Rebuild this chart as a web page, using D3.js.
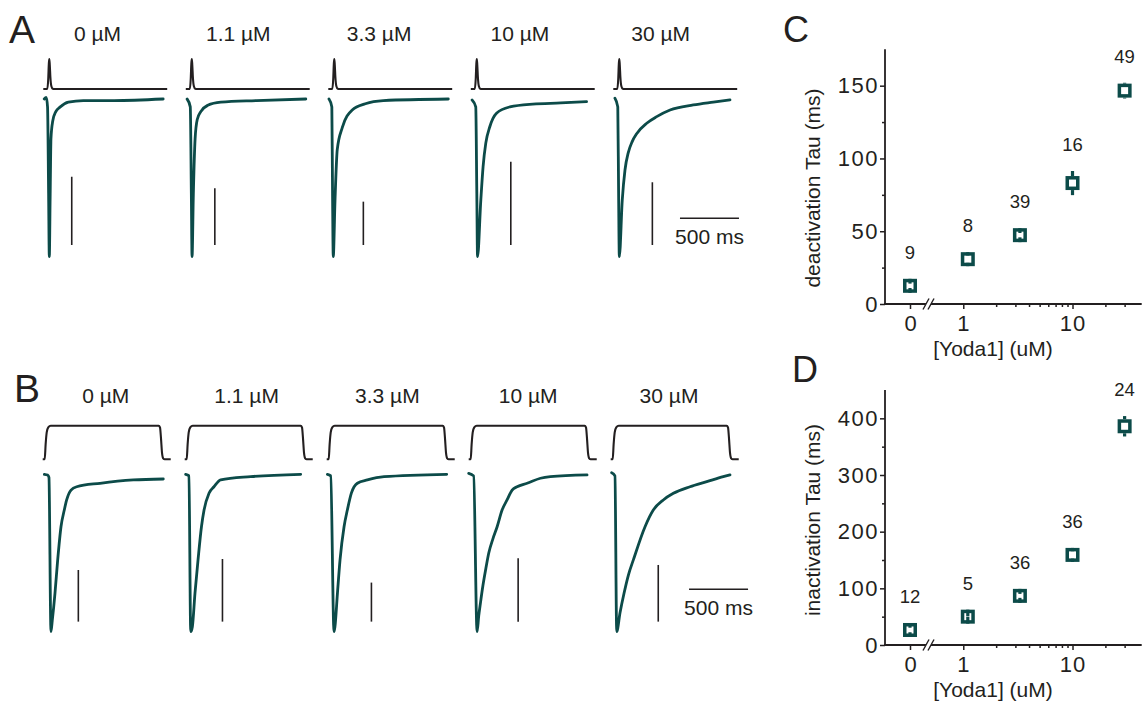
<!DOCTYPE html>
<html><head><meta charset="utf-8">
<script src="https://cdn.jsdelivr.net/npm/d3@7"></script>
<style>
body{margin:0;background:#fff}
text{font-family:"Liberation Sans",Arial,Helvetica,sans-serif;fill:#231f20}
</style>
</head><body>
<svg id="fig" width="1143" height="703"></svg>
<script>
// ---------------- DATA ----------------
const concLabels = ["0 µM", "1.1 µM", "3.3 µM", "10 µM", "30 µM"];
const concValues = [0, 1.1, 3.3, 10, 30];

// Panel A: deactivation protocol (time in ms, stimulus normalised 0..1)
const deactStimT = [0, 34, 42, 47, 51, 55, 60, 68, 80, 95, 1050];
const deactStimV = [0, 0, 0.35, 0.85, 1, 0.8, 0.4, 0.1, 0.01, 0, 0];
// Panel A currents (time ms, current normalised to peak)
const deactT = [
  [8, 25, 36, 45, 51, 58, 65, 80, 106, 144, 212, 339, 600, 1016],
  [11, 38, 47, 53, 64, 79, 97, 127, 186, 297, 600, 1017],
  [6, 30, 36, 42, 57, 76, 119, 203, 314, 466, 1017],
  [11, 42, 51, 57, 85, 104, 127, 161, 218, 331, 525, 763, 981],
  [14, 38, 45, 51, 76, 99, 127, 160, 198, 283, 368, 481, 678, 847, 989]
];
const deactV = [
  [0, 0.01, -0.05, -0.6, -1, -0.62, -0.25, -0.14, -0.08, -0.05, -0.02, -0.01, -0.01, 0],
  [0, -0.05, -0.6, -1, -0.6, -0.25, -0.13, -0.08, -0.04, -0.02, -0.01, 0],
  [0, -0.05, -0.6, -1, -0.64, -0.32, -0.18, -0.07, -0.03, -0.01, 0],
  [-0.006, -0.05, -0.6, -1, -0.64, -0.43, -0.28, -0.176, -0.09, -0.05, -0.032, -0.025, -0.017],
  [0.005, -0.05, -0.6, -1, -0.64, -0.45, -0.34, -0.27, -0.22, -0.154, -0.112, -0.07, -0.038, -0.02, -0.006]
];
const deactScaleBar = [0.433, 0.36, 0.275, 0.528, 0.398];   // current scale bars (fraction of peak)

// Panel B: inactivation protocol
const inactStimT = [0, 17, 25, 34, 47, 68, 983, 994, 1003, 1011, 1021, 1034, 1085];
const inactStimV = [0, 0, 0.45, 0.8, 0.95, 1, 1, 0.95, 0.6, 0.2, 0.03, 0, 0];
const inactT = [
  [14, 42, 53, 70, 81, 104, 127, 155, 183, 203, 240, 288, 486, 768, 1022],
  [8, 36, 51, 65, 87, 113, 142, 164, 206, 248, 305, 559, 983],
  [6, 34, 62, 70, 91, 113, 147, 175, 209, 260, 345, 486, 1017],
  [0, 42, 71, 85, 100, 120, 145, 170, 205, 241, 283, 325, 368, 410, 495, 608, 692, 1003],
  [8, 36, 51, 79, 113, 150, 192, 291, 361, 446, 531, 672, 814, 954, 1011]
];
const inactV = [
  [0, -0.005, -0.02, -1, -0.93, -0.756, -0.544, -0.333, -0.227, -0.163, -0.1, -0.079, -0.057, -0.036, -0.03],
  [0, -0.01, -1, -0.968, -0.756, -0.544, -0.333, -0.227, -0.12, -0.079, -0.036, -0.015, 0],
  [0, -0.01, -1, -0.968, -0.756, -0.544, -0.333, -0.227, -0.12, -0.057, -0.036, -0.015, 0],
  [0.006, -0.01, -1, -0.9, -0.815, -0.71, -0.6, -0.5, -0.41, -0.333, -0.227, -0.163, -0.1, -0.079, -0.057, -0.025, -0.015, -0.004],
  [0.01, -0.01, -1, -0.88, -0.756, -0.64, -0.544, -0.333, -0.227, -0.163, -0.121, -0.079, -0.047, -0.015, -0.004]
];
const inactScaleBar = [0.328, 0.398, 0.248, 0.403, 0.36];

// Panel C / D: time constants (ms), SEM and n
const deactTau = [12.5, 30.8, 47.3, 83.1, 146.6];
const deactErr = [1.5, 2.5, 1.5, 8.3, 5.4];
const deactN   = [9, 8, 39, 16, 49];
const inactTau = [26.5, 50, 86.7, 159, 386];
const inactErr = [4, 0.5, 3.5, 6.5, 18];
const inactN   = [12, 5, 36, 36, 24];

const timeBarMs = 500;
const xLogMajor = [1, 10];
const xLogMinor = [2, 3, 4, 5, 6, 7, 8, 9, 20, 30];
const deactYMajor = [0, 50, 100, 150], deactYMinor = [25, 75, 125];
const inactYMajor = [0, 100, 200, 300, 400], inactYMinor = [50, 150, 250, 350];

// ---------------- DRAWING ----------------
const INK = "#231f20", TEAL = "#0c4b49";
const svg = d3.select("#fig");

function tracePanel(cfg) {
  const g = svg.append("g");
  concLabels.forEach((lab, i) => {
    const x0 = cfg.colStart + i * cfg.colStep;
    const xs = d3.scaleLinear().domain([0, 1000]).range([x0, x0 + 118]);
    const ys = d3.scaleLinear().domain([0, 1]).range([cfg.stimBase, cfg.stimBase - cfg.stimH]);
    const yc = d3.scaleLinear().domain([-1, 0]).range([cfg.curPeak, cfg.curBase]);
    const stim = d3.line().x(d => xs(d[0])).y(d => ys(d[1])).curve(d3.curveMonotoneX);
    const cur = d3.line().x(d => xs(d[0])).y(d => yc(d[1])).curve(d3.curveMonotoneX);
    g.append("path").attr("d", stim(d3.zip(cfg.stimT, cfg.stimV)))
      .attr("fill", "none").attr("stroke", INK).attr("stroke-width", 2.1).attr("stroke-linejoin", "round");
    g.append("path").attr("d", cur(d3.zip(cfg.T[i], cfg.V[i])))
      .attr("fill", "none").attr("stroke", TEAL).attr("stroke-width", 2.8)
      .attr("stroke-linejoin", "round").attr("stroke-linecap", "round");
    // vertical current scale bar
    const sbX = xs(cfg.sbOffsetMs[i]);
    const sbBottom = yc(cfg.sbBottom);
    const sbLen = yc(-cfg.scaleBar[i]) - yc(0);
    g.append("line").attr("x1", sbX).attr("x2", sbX)
      .attr("y1", sbBottom).attr("y2", sbBottom - sbLen)
      .attr("stroke", INK).attr("stroke-width", 1.6);
    g.append("text").attr("x", cfg.labStart + i * cfg.labStep).attr("y", cfg.labY)
      .attr("text-anchor", "middle").attr("font-size", 21).text(lab);
    if (i === 4) {
      const tb0 = xs(cfg.timeBarStart), tb1 = xs(cfg.timeBarStart + timeBarMs);
      g.append("line").attr("x1", tb0).attr("x2", tb1).attr("y1", cfg.timeBarY).attr("y2", cfg.timeBarY)
        .attr("stroke", INK).attr("stroke-width", 1.6);
      g.append("text").attr("x", (tb0 + tb1) / 2).attr("y", cfg.timeBarY + 26)
        .attr("text-anchor", "middle").attr("font-size", 21).text(timeBarMs + " ms");
    }
  });
  g.append("text").attr("x", cfg.letterX).attr("y", cfg.letterY).attr("font-size", 39).text(cfg.letter);
}

tracePanel({
  letter: "A", letterX: 9, letterY: 43,
  colStart: 43.3, colStep: 142.5, labStart: 97.5, labStep: 140.8, labY: 40.5,
  stimBase: 89, stimH: 30, curBase: 99, curPeak: 256.7,
  stimT: deactStimT, stimV: deactStimV, T: deactT, V: deactV,
  scaleBar: deactScaleBar, sbOffsetMs: [241, 246, 297, 339, 331], sbBottom: -0.926,
  timeBarStart: 565, timeBarY: 218.3
});
tracePanel({
  letter: "B", letterX: 14, letterY: 402,
  colStart: 42.7, colStep: 142, labStart: 105.8, labStep: 140.8, labY: 403,
  stimBase: 459.3, stimH: 33.6, curBase: 474.3, curPeak: 631.7,
  stimT: inactStimT, stimV: inactStimV, T: inactT, V: inactV,
  scaleBar: inactScaleBar, sbOffsetMs: [302, 320, 379, 419, 403], sbBottom: -0.936,
  timeBarStart: 664, timeBarY: 589.3
});

function scatterPanel(cfg) {
  const g = svg.append("g");
  const y = d3.scaleLinear().domain(cfg.yDomain).range([cfg.axisY, cfg.topY]);
  const xZero = d3.scaleLinear().domain([-0.5, 0.5]).range([885, 935]);
  const xLog = d3.scaleLog().domain([0.5, 43]).range([930.4, 1141.7]);
  const xOf = c => c === 0 ? xZero(0) : xLog(c);

  // axis lines
  g.append("line").attr("x1", 885).attr("x2", 885).attr("y1", cfg.topY).attr("y2", cfg.axisY)
    .attr("stroke", INK).attr("stroke-width", 1.8);
  g.append("line").attr("x1", 884.1).attr("x2", 1141.7).attr("y1", cfg.axisY).attr("y2", cfg.axisY)
    .attr("stroke", INK).attr("stroke-width", 1.8);

  const style = (sel, spacing) => {
    sel.select(".domain").remove();
    sel.selectAll("line").attr("stroke", INK).attr("stroke-width", 1.5);
    sel.selectAll("text").attr("font-size", 22).attr("fill", INK)
      .attr("letter-spacing", spacing || 0)
      .attr("font-family", '"Liberation Sans",Arial,sans-serif');
  };
  g.append("g").attr("transform", `translate(885,0)`)
    .call(d3.axisLeft(y).tickValues(cfg.yMajor).tickSize(5).tickPadding(1).tickFormat(d3.format("d")))
    .call(s => style(s, 1.5));
  g.append("g").attr("transform", `translate(885,0)`)
    .call(d3.axisLeft(y).tickValues(cfg.yMinor).tickSize(3).tickFormat("")).call(s => style(s));
  g.append("g").attr("transform", `translate(0,${cfg.axisY})`)
    .call(d3.axisBottom(xZero).tickValues([0]).tickSize(5).tickPadding(6).tickFormat(d3.format("d"))).call(s => style(s));
  g.append("g").attr("transform", `translate(0,${cfg.axisY})`)
    .call(d3.axisBottom(xLog).tickValues(xLogMajor).tickSize(5).tickPadding(6).tickFormat(d3.format("d")))
    .call(s => style(s, 1));
  g.append("g").attr("transform", `translate(0,${cfg.axisY})`)
    .call(d3.axisBottom(xLog).tickValues(xLogMinor).tickSize(3).tickFormat("")).call(s => style(s));

  // axis break marks
  const bx = 929;
  g.append("path").attr("d", `M${bx - 6},${cfg.axisY + 5} L${bx},${cfg.axisY - 6} L${bx + 5},${cfg.axisY - 6} L${bx - 1},${cfg.axisY + 5}Z`)
    .attr("fill", "#fff");
  [bx - 6, bx - 1].forEach(x => g.append("line")
    .attr("x1", x).attr("y1", cfg.axisY + 5.5).attr("x2", x + 6).attr("y2", cfg.axisY - 5.5)
    .attr("stroke", INK).attr("stroke-width", 1.4));

  // labels
  g.append("text").attr("x", 993).attr("y", cfg.axisY + 52).attr("text-anchor", "middle")
    .attr("font-size", 21).text("[Yoda1] (uM)");
  g.append("text").attr("transform", `translate(820,${cfg.yLabelY}) rotate(-90)`)
    .attr("text-anchor", "middle").attr("font-size", 21).text(cfg.yLabel);
  g.append("text").attr("x", cfg.letterX).attr("y", cfg.letterY).attr("font-size", 36).text(cfg.letter);

  // points
  const half = 7;
  concValues.forEach((c, i) => {
    const cx = xOf(c), cy = y(cfg.tau[i]);
    const yTop = y(cfg.tau[i] + cfg.err[i]), yBot = y(cfg.tau[i] - cfg.err[i]);
    g.append("rect").attr("x", cx - half + 1.75).attr("y", cy - half + 1.75)
      .attr("width", 2 * half - 3.5).attr("height", 2 * half - 3.5)
      .attr("fill", "#fff").attr("stroke", TEAL).attr("stroke-width", 3.5);
    g.append("line").attr("x1", cx).attr("x2", cx).attr("y1", yTop).attr("y2", cy - half)
      .attr("stroke", TEAL).attr("stroke-width", 3.2);
    g.append("line").attr("x1", cx).attr("x2", cx).attr("y1", yBot).attr("y2", cy + half)
      .attr("stroke", TEAL).attr("stroke-width", 3.2);
    const top = Math.min(yTop, cy - half);
    g.append("text").attr("x", cx).attr("y", top - 20).attr("text-anchor", "middle")
      .attr("font-size", 18.5).text(cfg.n[i]);
  });
}

scatterPanel({
  letter: "C", letterX: 783, letterY: 42,
  yDomain: [0, 175], axisY: 304, topY: 49.3, yMajor: deactYMajor, yMinor: deactYMinor,
  yLabel: "deactivation Tau (ms)", yLabelY: 188,
  tau: deactTau, err: deactErr, n: deactN
});
scatterPanel({
  letter: "D", letterX: 792, letterY: 382,
  yDomain: [0, 450], axisY: 645, topY: 390, yMajor: inactYMajor, yMinor: inactYMinor,
  yLabel: "inactivation Tau (ms)", yLabelY: 520,
  tau: inactTau, err: inactErr, n: inactN
});
</script>
</body></html>
